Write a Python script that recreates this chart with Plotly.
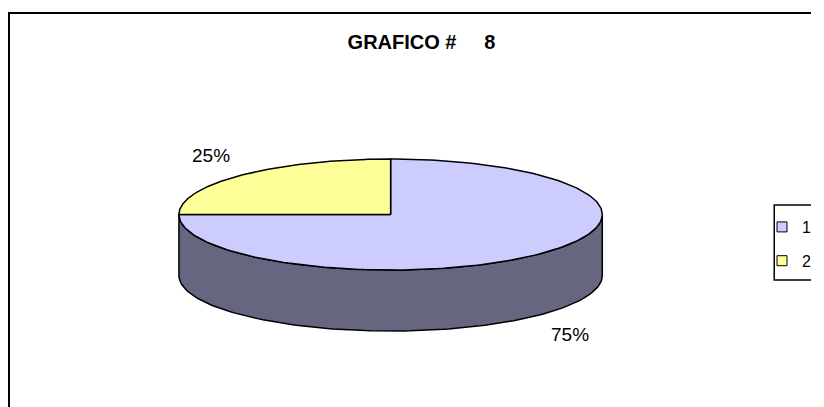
import numpy as np
import plotly.graph_objects as go

# ---- data ----
categories = ["1", "2"]
values = [75, 25]
label_texts = ["75%", "25%"]
title_text = "GRAFICO #\u00a0\u00a0\u00a0\u00a0\u00a08"

top_colors = ["#CCCCFF", "#FFFF99"]
side_colors = ["#666680", "#808050"]

# ---- geometry (page pixel space; page body has an 8px margin) ----
W, H = 824, 407
OFF = 8
RIGHT, BOTTOM = W - OFF, H
cx, cy = 393, 214.5
rx, ry = 213, 55.5
depth = 61
start_deg = 90.0  # Excel: start at 12 o'clock, clockwise

def pt(theta_deg, dy=0.0):
    t = np.radians(theta_deg)
    return cx + rx * np.cos(t), cy - ry * np.sin(t) + dy

total = float(sum(values))
bounds = []
a = start_deg
for v in values:
    b = a - 360.0 * v / total
    bounds.append((a, b))
    a = b

fig = go.Figure()

# side walls (front half)
for i, (a0, b0) in enumerate(bounds):
    hi, lo = a0, b0
    for shift in (0, -360, 360):
        s_lo, s_hi = max(lo + shift, -180), min(hi + shift, 0)
        if s_hi > s_lo:
            th = np.linspace(s_lo, s_hi, 120)
            xs_t, ys_t = pt(th)
            xs_b, ys_b = pt(th[::-1], depth)
            xs = np.concatenate([xs_t, xs_b, xs_t[:1]])
            ys = np.concatenate([ys_t, ys_b, ys_t[:1]])
            fig.add_trace(go.Scatter(x=xs, y=ys, mode="lines", fill="toself",
                                     fillcolor=side_colors[i],
                                     line=dict(color="black", width=1.5),
                                     hoverinfo="skip", showlegend=False))

# top slices
for i, (a0, b0) in enumerate(bounds):
    th = np.linspace(a0, b0, 200)
    xs, ys = pt(th)
    xs = np.concatenate([[cx], xs, [cx]])
    ys = np.concatenate([[cy], ys, [cy]])
    fig.add_trace(go.Scatter(x=xs, y=ys, mode="lines", fill="toself",
                             fillcolor=top_colors[i],
                             line=dict(color="black", width=1.5),
                             hoverinfo="skip", showlegend=False))

# data labels
for i, (a0, b0) in enumerate(bounds):
    mid = np.radians((a0 + b0) / 2.0)
    lx = cx + rx * 1.2 * np.cos(mid)
    ly = cy - ry * 1.5 * np.sin(mid)
    if np.sin(mid) < 0:
        ly += depth
    fig.add_annotation(x=lx, y=ly, text=label_texts[i], showarrow=False,
                       font=dict(family="Liberation Sans, Arial", size=19, color="black"),
                       xanchor="center", yanchor="middle")

# legend entries
for i, c in enumerate(categories):
    fig.add_trace(go.Scatter(x=[None], y=[None], mode="markers", name=c,
                             legendgroup=c,
                             marker=dict(symbol="square", size=10, color=top_colors[i],
                                         line=dict(color="black", width=1))))

# outer frame and legend box
fig.add_shape(type="rect", x0=9, y0=13, x1=W + 10, y1=H + 10,
              line=dict(color="black", width=2), fillcolor="rgba(0,0,0,0)", layer="above")
fig.add_shape(type="rect", x0=779, y0=205, x1=W + 10, y1=280,
              line=dict(color="black", width=1.5), fillcolor="rgba(0,0,0,0)", layer="above")

PW, PH = RIGHT - OFF, BOTTOM - OFF
fig.update_layout(
    width=PW, height=PH,
    margin=dict(l=0, r=0, t=0, b=0),
    paper_bgcolor="white", plot_bgcolor="white",
    xaxis=dict(range=[OFF, RIGHT], visible=False, fixedrange=True),
    yaxis=dict(range=[BOTTOM, OFF], visible=False, fixedrange=True),
    title=dict(text="<b>" + title_text + "</b>", x=(421.5 - OFF) / PW, y=1 - (42 - OFF) / PH,
               xanchor="center", yanchor="middle",
               font=dict(family="Liberation Sans, Arial", size=20, color="black")),
    showlegend=True,
    legend=dict(x=(767 - OFF) / PW, y=1 - (210 - OFF) / PH, xanchor="left", yanchor="top",
                bgcolor="rgba(0,0,0,0)", borderwidth=0,
                font=dict(family="Liberation Sans, Arial", size=16, color="black"),
                tracegroupgap=10, itemwidth=30),
)

fig.write_html("out.html")
